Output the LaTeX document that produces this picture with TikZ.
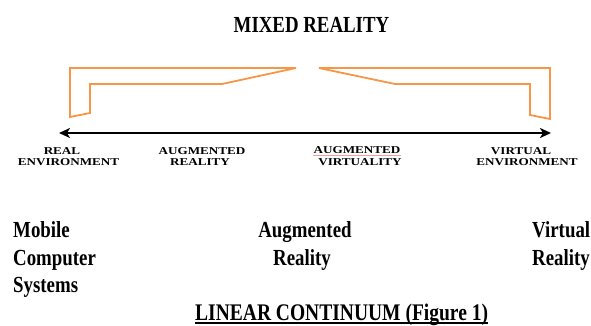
\documentclass[tikz,border=0pt]{standalone}
\usepackage{fontspec}
\setmainfont{Liberation Serif}
\newfontfamily\bigfnt[FakeStretch=0.82]{Liberation Serif}
\newfontfamily\smallfnt[FakeStretch=1.25]{Liberation Serif}
\usetikzlibrary{arrows.meta}
\definecolor{mrorange}{RGB}{247,150,70}
\begin{document}
\begin{tikzpicture}[x=1pt,y=-1pt,
  bigtxt/.style={inner sep=0pt, font=\bigfnt\bfseries\fontsize{23}{28}\selectfont},
  smalltxt/.style={inner sep=0pt, anchor=base, font=\smallfnt\bfseries\fontsize{10.5}{12}\selectfont},
  bracket/.style={draw=mrorange, line width=1.8pt, line join=miter, miter limit=3},
  axis/.style={line width=2.2pt, {Stealth[length=11pt,width=10pt,inset=3pt]}-{Stealth[length=11pt,width=10pt,inset=3pt]}}]
\useasboundingbox (0,0) rectangle (591,325);

% title
\node[bigtxt, anchor=base] (title) at (311.5,32) {MIXED REALITY};

% orange brackets
\draw[bracket] (70,117) -- (70,68) -- (296,68) -- (222,84) -- (90,84) -- (90,113) -- cycle;
\draw[bracket] (319,68) -- (550,68) -- (550,119) -- (530,115) -- (530,84) -- (395,84) -- cycle;

% continuum axis
\coordinate (L) at (59,133);
\coordinate (R) at (551,133);
\draw[axis] (L) -- (R);

% small labels
\node[smalltxt] (re1) at (62,154) {REAL};
\node[smalltxt] (re2) at (68.5,165) {ENVIRONMENT};
\node[smalltxt] (ar1) at (202,154) {AUGMENTED};
\node[smalltxt] (ar2) at (200,165) {REALITY};
\node[smalltxt] (av1) at (357,153.5) {AUGMENTED};
\node[smalltxt] (av2) at (360,165) {VIRTUALITY};
\node[smalltxt] (ve1) at (521,154) {VIRTUAL};
\node[smalltxt] (ve2) at (527,165) {ENVIRONMENT};
\draw[red!40, line width=0.5pt] ([yshift=-2pt]av1.base west) -- ([yshift=-2pt]av1.base east);

% bottom labels
\node[bigtxt, anchor=base west] (m1) at (13,237) {Mobile};
\node[bigtxt, anchor=base west] (m2) at (13,265) {Computer};
\node[bigtxt, anchor=base west] (m3) at (13,292) {Systems};
\node[bigtxt, anchor=base] (a1) at (305,237) {Augmented};
\node[bigtxt, anchor=base] (a2) at (302,265) {Reality};
\node[bigtxt, anchor=base west] (v1) at (532,237) {Virtual};
\node[bigtxt, anchor=base west] (v2) at (532,265) {Reality};

% caption
\node[bigtxt, anchor=base west, font=\bigfnt\bfseries\fontsize{23.8}{28}\selectfont] (cap) at (195,320) {LINEAR CONTINUUM (Figure 1)};
\draw[line width=1.1pt] ([yshift=-3pt]cap.base west) -- ([yshift=-3pt]cap.base east);
\end{tikzpicture}
\end{document}
